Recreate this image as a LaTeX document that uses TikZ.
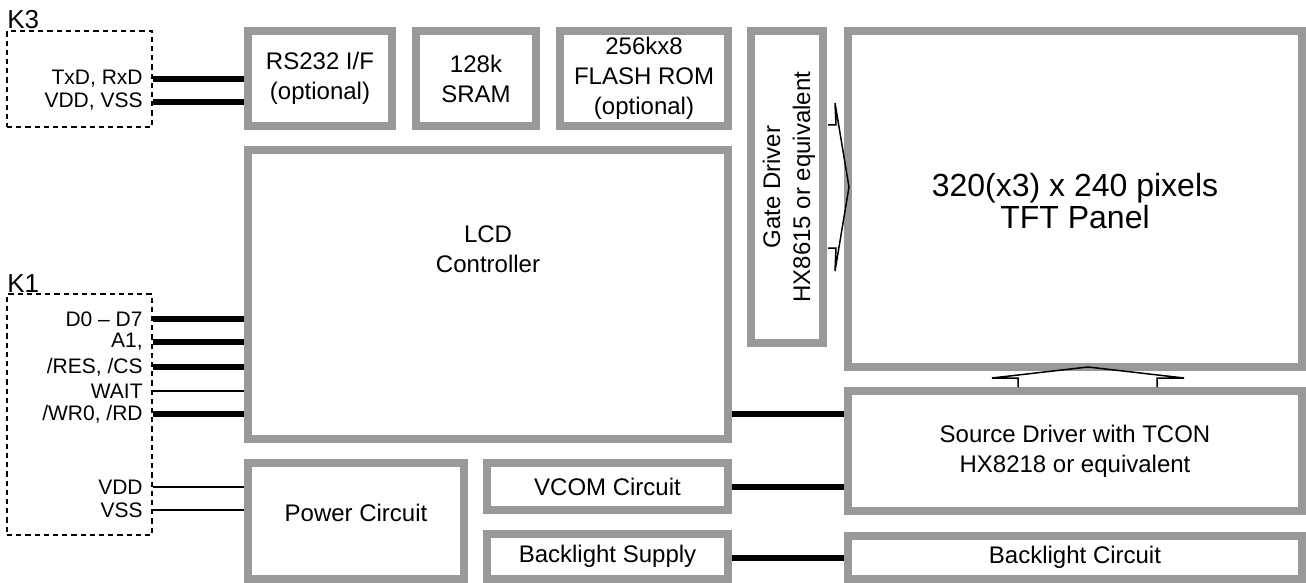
\documentclass[tikz,border=0pt]{standalone}
\usepackage{fontspec}
\setmainfont{Liberation Sans}
\definecolor{bgray}{RGB}{153,153,153}
\tikzset{
  box/.style={draw=bgray, line width=4pt, fill=white, inner sep=0pt, align=center, font=\fontsize{12}{15}\selectfont},
  boxtext/.style={align=center, inner sep=0pt, font=\fontsize{12}{15}\selectfont},
  dashbox/.style={draw, dash pattern=on 2.6pt off 2pt, line width=0.65pt, inner sep=0pt},
  sig/.style={font=\fontsize{10.5}{12}\selectfont, anchor=east, inner sep=0pt},
  klabel/.style={font=\fontsize{13}{14}\selectfont, anchor=base west, inner sep=0pt},
  bus/.style={line width=2.8pt},
  wire/.style={line width=0.7pt},
  outline/.style={line width=0.75pt, line join=miter}
}
\newcommand\blk[6]{\node[box, minimum width={(#4-#2-8)*0.5pt}, minimum height={(#5-#3-8)*0.5pt}] (#1) at ({(#2+#4)/2},{(#3+#5)/2}) {#6};}
\newcommand\dbx[5]{\node[dashbox, minimum width={(#4-#2)*0.5pt}, minimum height={(#5-#3)*0.5pt}] (#1) at ({(#2+#4)/2},{(#3+#5)/2}) {};}
\begin{document}
\begin{tikzpicture}[x=0.5pt,y=-0.5pt]
\useasboundingbox (0,0) rectangle (1306,583);
% blocks
\blk{rs}{244}{27}{396}{130}{RS232 I/F\\(optional)}
\blk{sram}{412}{27}{540}{130}{128k\\SRAM}
\blk{flash}{556}{27}{732}{130}{256kx8\\FLASH ROM\\(optional)}
\blk{gate}{747}{27}{827}{347}{}
\node[boxtext, rotate=90] (gatetxt) at (789,187) {Gate Driver\\HX8615 or equivalent};
\blk{tft}{844}{27}{1306}{371}{}
\node[boxtext, font=\fontsize{16}{16}\selectfont] (tfttxt) at (1075,201) {320(x3) x 240 pixels\\TFT Panel};
\blk{lcd}{244}{146}{732}{443}{}
\node[boxtext] (lcdtxt) at (488,249) {LCD\\Controller};
\blk{src}{844}{387}{1306}{515}{Source Driver with TCON\\HX8218 or equivalent}
\blk{pwr}{244}{459}{468}{583}{}
\node[boxtext] (pwrtxt) at (356,513) {Power Circuit};
\blk{vcom}{483}{459}{732}{514}{VCOM Circuit}
\blk{bls}{483}{530}{732}{583}{Backlight Supply}
\blk{blc}{844}{532}{1306}{583}{Backlight Circuit}
% arrows (drawn over the box borders)
\draw[outline] (828,125) -- (836,125) -- (835,103) -- (849,187) -- (835,271) -- (836,248) -- (828,248);
\draw[outline] (1018,387) -- (1018,378) -- (992,378) -- (1088,367) -- (1184,378) -- (1157,378) -- (1157,387);
% connectors
\dbx{k3}{7}{31}{152}{127}
\dbx{k1}{7}{294}{152}{535}
\node[klabel] (k3l) at (7,29) {K3};
\node[klabel] (k1l) at (7,292) {K1};
\node[sig] (s1) at (143,79) {TxD, RxD};
\node[sig] (s2) at (143,102) {VDD, VSS};
\node[sig] (s3) at (143,319) {D0 -- D7};
\node[sig] (s4) at (143,342) {A1,};
\node[sig] (s5) at (143,367) {/RES, /CS};
\node[sig] (s6) at (143,391) {WAIT};
\node[sig] (s7) at (143,414) {/WR0, /RD};
\node[sig] (s8) at (143,487) {VDD};
\node[sig] (s9) at (143,510) {VSS};
\draw[bus] (s1 -| k3.east) -- (s1 -| rs.west);
\draw[bus] (s2 -| k3.east) -- (s2 -| rs.west);
\draw[bus] (s3 -| k1.east) -- (s3 -| lcd.west);
\draw[bus] (s4 -| k1.east) -- (s4 -| lcd.west);
\draw[bus] (s5 -| k1.east) -- (s5 -| lcd.west);
\draw[wire] (s6 -| k1.east) -- (s6 -| lcd.west);
\draw[bus] (s7 -| k1.east) -- (s7 -| lcd.west);
\draw[wire] (s8 -| k1.east) -- (s8 -| pwr.west);
\draw[wire] (s9 -| k1.east) -- (s9 -| pwr.west);
\draw[bus] (s7 -| lcd.east) -- (s7 -| src.west);
\draw[bus] (vcom.east |- 0,487) -- (src.west |- 0,487);
\draw[bus] (bls.east |- 0,558) -- (blc.west |- 0,558);
\end{tikzpicture}
\end{document}
